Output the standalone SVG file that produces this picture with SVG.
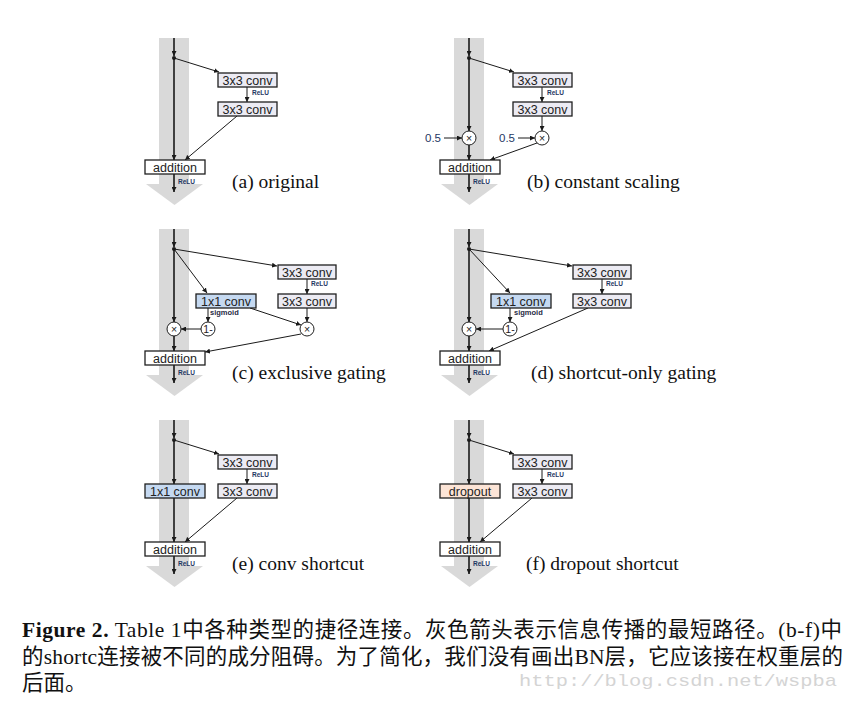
<svg xmlns="http://www.w3.org/2000/svg" width="861" height="703" viewBox="0 0 861 703">
<defs>
<marker id="ah" viewBox="0 0 6 6" markerWidth="5" markerHeight="5" refX="6" refY="3" orient="auto" markerUnits="userSpaceOnUse"><path d="M0,0 L6,3 L0,6 z" fill="#1a1a1a"/></marker>
</defs>
<style>
.band{fill:#d9d9d9}
.ln{stroke:#1a1a1a;stroke-width:1;fill:none;marker-end:url(#ah)}
.mn{stroke:#1a1a1a;stroke-width:1.6;fill:none;marker-end:url(#ah)}
.box{stroke:#1f1f1f;stroke-width:1.3}
.c3{fill:#ecebf3}
.c1{fill:#c5d9f1}
.dp{fill:#fce4d6}
.ad{fill:#ffffff}
.bt{font-family:"Liberation Sans",Arial,sans-serif;font-size:12.5px;fill:#222;text-anchor:middle}
.sm{font-family:"Liberation Sans",Arial,sans-serif;font-size:6.5px;font-weight:bold;fill:#1f3864}
.sg{font-family:"Liberation Sans",Arial,sans-serif;font-size:7.5px;font-weight:bold;fill:#1f2a44}
.hv{font-family:"Liberation Sans",Arial,sans-serif;font-size:11.5px;fill:#1f3864;text-anchor:end}
.cir{fill:#fff;stroke:#1f1f1f;stroke-width:1}
.ct{font-family:"Liberation Sans",Arial,sans-serif;font-size:10.5px;fill:#222;text-anchor:middle}
.cap{font-family:"Liberation Serif","Times New Roman",serif;font-size:19.5px;fill:#111}
.dot{fill:#1a1a1a}
.fig{font-family:"Liberation Serif","Noto Sans CJK SC",serif;font-size:21.5px;fill:#111}
.wm{font-family:"Liberation Mono","Courier New",monospace;font-size:17px;fill:#d4d4d4}
</style>

<!-- gray shortest-path bands -->
<g id="bands">
<rect class="band" x="159" y="38" width="30" height="146"/><polygon class="band" points="146,184 203,184 174.5,205"/>
<rect class="band" x="454" y="38" width="30" height="146"/><polygon class="band" points="441,184 498,184 469.5,205"/>
<rect class="band" x="159" y="229" width="30" height="146"/><polygon class="band" points="146,375 203,375 174.5,396"/>
<rect class="band" x="454" y="229" width="30" height="146"/><polygon class="band" points="441,375 498,375 469.5,396"/>
<rect class="band" x="159" y="420" width="30" height="146"/><polygon class="band" points="146,566 203,566 174.5,587"/>
<rect class="band" x="454" y="420" width="30" height="146"/><polygon class="band" points="441,566 498,566 469.5,587"/>
</g>

<g id="connectors">
<!-- (a) -->
<line class="mn" x1="174" y1="38" x2="174" y2="56"/>
<line class="mn" x1="174" y1="58" x2="174" y2="160"/>
<line class="ln" x1="174" y1="58" x2="219" y2="72"/>
<line class="ln" x1="247" y1="87" x2="247" y2="102"/>
<line class="ln" x1="237" y1="116" x2="185" y2="160"/>
<line class="mn" x1="174" y1="174" x2="174" y2="192"/>
<!-- (b) -->
<line class="mn" x1="469" y1="38" x2="469" y2="56"/>
<line class="mn" x1="469" y1="58" x2="469" y2="131"/>
<line class="mn" x1="469" y1="145" x2="469" y2="160"/>
<line class="ln" x1="469" y1="58" x2="514" y2="72"/>
<line class="ln" x1="542" y1="87" x2="542" y2="102"/>
<line class="ln" x1="542" y1="116" x2="542" y2="131"/>
<line class="ln" x1="444" y1="138" x2="462" y2="138"/>
<line class="ln" x1="518" y1="138" x2="535" y2="138"/>
<line class="ln" x1="537" y1="143" x2="490" y2="160"/>
<line class="mn" x1="469" y1="174" x2="469" y2="192"/>
<!-- (c) -->
<line class="mn" x1="174" y1="229" x2="174" y2="247"/>
<line class="mn" x1="174" y1="249" x2="174" y2="322"/>
<line class="mn" x1="174" y1="336" x2="174" y2="351"/>
<line class="ln" x1="174" y1="249" x2="277" y2="266"/>
<line class="ln" x1="174" y1="249" x2="207" y2="293"/>
<line class="ln" x1="307" y1="279" x2="307" y2="294"/>
<line class="ln" x1="208" y1="308" x2="208" y2="322"/>
<line class="ln" x1="201" y1="329" x2="181" y2="329"/>
<line class="ln" x1="250" y1="308" x2="301" y2="325"/>
<line class="ln" x1="307" y1="308" x2="307" y2="322"/>
<line class="ln" x1="301" y1="334" x2="205" y2="352"/>
<line class="mn" x1="174" y1="365" x2="174" y2="383"/>
<!-- (d) -->
<line class="mn" x1="469" y1="229" x2="469" y2="247"/>
<line class="mn" x1="469" y1="249" x2="469" y2="322"/>
<line class="mn" x1="469" y1="336" x2="469" y2="351"/>
<line class="ln" x1="469" y1="249" x2="572" y2="266"/>
<line class="ln" x1="469" y1="249" x2="510" y2="293"/>
<line class="ln" x1="602" y1="279" x2="602" y2="294"/>
<line class="ln" x1="510" y1="308" x2="510" y2="322"/>
<line class="ln" x1="503" y1="329" x2="476" y2="329"/>
<line class="ln" x1="588" y1="308" x2="489" y2="351"/>
<line class="mn" x1="469" y1="365" x2="469" y2="383"/>
<!-- (e) -->
<line class="mn" x1="174" y1="420" x2="174" y2="438"/>
<line class="mn" x1="174" y1="440" x2="174" y2="484"/>
<line class="mn" x1="174" y1="498" x2="174" y2="542"/>
<line class="ln" x1="174" y1="440" x2="219" y2="454"/>
<line class="ln" x1="247" y1="469" x2="247" y2="484"/>
<line class="ln" x1="237" y1="498" x2="185" y2="542"/>
<line class="mn" x1="174" y1="556" x2="174" y2="574"/>
<!-- (f) -->
<line class="mn" x1="469" y1="420" x2="469" y2="438"/>
<line class="mn" x1="469" y1="440" x2="469" y2="484"/>
<line class="mn" x1="469" y1="498" x2="469" y2="542"/>
<line class="ln" x1="469" y1="440" x2="514" y2="454"/>
<line class="ln" x1="542" y1="469" x2="542" y2="484"/>
<line class="ln" x1="532" y1="498" x2="480" y2="542"/>
<line class="mn" x1="469" y1="556" x2="469" y2="574"/>
<!-- branch points -->
<circle class="dot" cx="174" cy="58" r="2"/>
<circle class="dot" cx="469" cy="58" r="2"/>
<circle class="dot" cx="174" cy="249" r="2"/>
<circle class="dot" cx="469" cy="249" r="2"/>
<circle class="dot" cx="174" cy="440" r="2"/>
<circle class="dot" cx="469" cy="440" r="2"/>
</g>

<!-- panel (a) -->
<g id="a-conv1"><rect class="box c3" x="218" y="73" width="59" height="14"/><text class="bt" x="247.5" y="84.5">3x3 conv</text></g>
<g id="a-relu1"><text class="sm" x="252" y="95">ReLU</text></g>
<g id="a-conv2"><rect class="box c3" x="218" y="102" width="59" height="14"/><text class="bt" x="247.5" y="113.5">3x3 conv</text></g>
<g id="a-add"><rect class="box ad" x="145" y="160" width="60" height="14"/><text class="bt" x="175" y="171.5">addition</text><text class="sm" x="178" y="184">ReLU</text></g>
<g id="a-cap"><text class="cap" x="232" y="188">(a) original</text></g>

<!-- panel (b) -->
<g id="b-conv1"><rect class="box c3" x="513" y="73" width="59" height="14"/><text class="bt" x="542.5" y="84.5">3x3 conv</text></g>
<g id="b-relu1"><text class="sm" x="547" y="95">ReLU</text></g>
<g id="b-conv2"><rect class="box c3" x="513" y="102" width="59" height="14"/><text class="bt" x="542.5" y="113.5">3x3 conv</text></g>
<g id="b-mul1"><circle class="cir" cx="469" cy="138" r="7"/><text class="ct" x="469" y="141.5">×</text><text class="hv" x="441" y="142">0.5</text></g>
<g id="b-mul2"><circle class="cir" cx="542" cy="138" r="7"/><text class="ct" x="542" y="141.5">×</text><text class="hv" x="515" y="142">0.5</text></g>
<g id="b-add"><rect class="box ad" x="440" y="160" width="60" height="14"/><text class="bt" x="470" y="171.5">addition</text><text class="sm" x="473" y="184">ReLU</text></g>
<g id="b-cap"><text class="cap" x="527" y="188">(b) constant scaling</text></g>

<!-- panel (c) -->
<g id="c-conv1"><rect class="box c3" x="278" y="265" width="58" height="14"/><text class="bt" x="307" y="276.5">3x3 conv</text></g>
<g id="c-relu1"><text class="sm" x="311" y="286">ReLU</text></g>
<g id="c-conv2"><rect class="box c3" x="278" y="294" width="58" height="14"/><text class="bt" x="307" y="305.5">3x3 conv</text></g>
<g id="c-gate"><rect class="box c1" x="196" y="294" width="60" height="14"/><text class="bt" x="226" y="305.5">1x1 conv</text><text class="sg" x="210" y="315">sigmoid</text></g>
<g id="c-oneminus"><circle class="cir" cx="208" cy="329" r="7"/><text class="ct" x="208" y="332.5">1-</text></g>
<g id="c-mul1"><circle class="cir" cx="174" cy="329" r="7"/><text class="ct" x="174" y="332.5">×</text></g>
<g id="c-mul2"><circle class="cir" cx="307" cy="329" r="7"/><text class="ct" x="307" y="332.5">×</text></g>
<g id="c-add"><rect class="box ad" x="145" y="351" width="60" height="14"/><text class="bt" x="175" y="362.5">addition</text><text class="sm" x="178" y="375">ReLU</text></g>
<g id="c-cap"><text class="cap" x="232" y="379">(c) exclusive gating</text></g>

<!-- panel (d) -->
<g id="d-conv1"><rect class="box c3" x="573" y="265" width="58" height="14"/><text class="bt" x="602" y="276.5">3x3 conv</text></g>
<g id="d-relu1"><text class="sm" x="606" y="286">ReLU</text></g>
<g id="d-conv2"><rect class="box c3" x="573" y="294" width="58" height="14"/><text class="bt" x="602" y="305.5">3x3 conv</text></g>
<g id="d-gate"><rect class="box c1" x="491" y="294" width="60" height="14"/><text class="bt" x="521" y="305.5">1x1 conv</text><text class="sg" x="514" y="315">sigmoid</text></g>
<g id="d-oneminus"><circle class="cir" cx="510" cy="329" r="7"/><text class="ct" x="510" y="332.5">1-</text></g>
<g id="d-mul1"><circle class="cir" cx="469" cy="329" r="7"/><text class="ct" x="469" y="332.5">×</text></g>
<g id="d-add"><rect class="box ad" x="440" y="351" width="60" height="14"/><text class="bt" x="470" y="362.5">addition</text><text class="sm" x="473" y="375">ReLU</text></g>
<g id="d-cap"><text class="cap" x="531" y="379">(d) shortcut-only gating</text></g>

<!-- panel (e) -->
<g id="e-conv1"><rect class="box c3" x="218" y="455" width="59" height="14"/><text class="bt" x="247.5" y="466.5">3x3 conv</text></g>
<g id="e-relu1"><text class="sm" x="252" y="477">ReLU</text></g>
<g id="e-conv2"><rect class="box c3" x="218" y="484" width="59" height="14"/><text class="bt" x="247.5" y="495.5">3x3 conv</text></g>
<g id="e-short"><rect class="box c1" x="145" y="484" width="60" height="14"/><text class="bt" x="175" y="495.5">1x1 conv</text></g>
<g id="e-add"><rect class="box ad" x="145" y="542" width="60" height="14"/><text class="bt" x="175" y="553.5">addition</text><text class="sm" x="178" y="566">ReLU</text></g>
<g id="e-cap"><text class="cap" x="232" y="570">(e) conv shortcut</text></g>

<!-- panel (f) -->
<g id="f-conv1"><rect class="box c3" x="513" y="455" width="59" height="14"/><text class="bt" x="542.5" y="466.5">3x3 conv</text></g>
<g id="f-relu1"><text class="sm" x="547" y="477">ReLU</text></g>
<g id="f-conv2"><rect class="box c3" x="513" y="484" width="59" height="14"/><text class="bt" x="542.5" y="495.5">3x3 conv</text></g>
<g id="f-short"><rect class="box dp" x="440" y="484" width="60" height="14"/><text class="bt" x="470" y="495.5">dropout</text></g>
<g id="f-add"><rect class="box ad" x="440" y="542" width="60" height="14"/><text class="bt" x="470" y="553.5">addition</text><text class="sm" x="473" y="566">ReLU</text></g>
<g id="f-cap"><text class="cap" x="526" y="570">(f) dropout shortcut</text></g>

<!-- figure caption -->
<g id="caption">
<text class="fig" x="22" y="637" textLength="820" lengthAdjust="spacing"><tspan font-weight="bold">Figure 2.</tspan> Table 1中各种类型的捷径连接。灰色箭头表示信息传播的最短路径。(b-f)中</text>
<text class="fig" x="22" y="664" textLength="821" lengthAdjust="spacing">的shortc连接被不同的成分阻碍。为了简化，我们没有画出BN层，它应该接在权重层的</text>
<text class="fig" x="22" y="690">后面。</text>
<text class="wm" x="519" y="686" textLength="318" lengthAdjust="spacingAndGlyphs">http://blog.csdn.net/wspba</text>
</g>
</svg>
